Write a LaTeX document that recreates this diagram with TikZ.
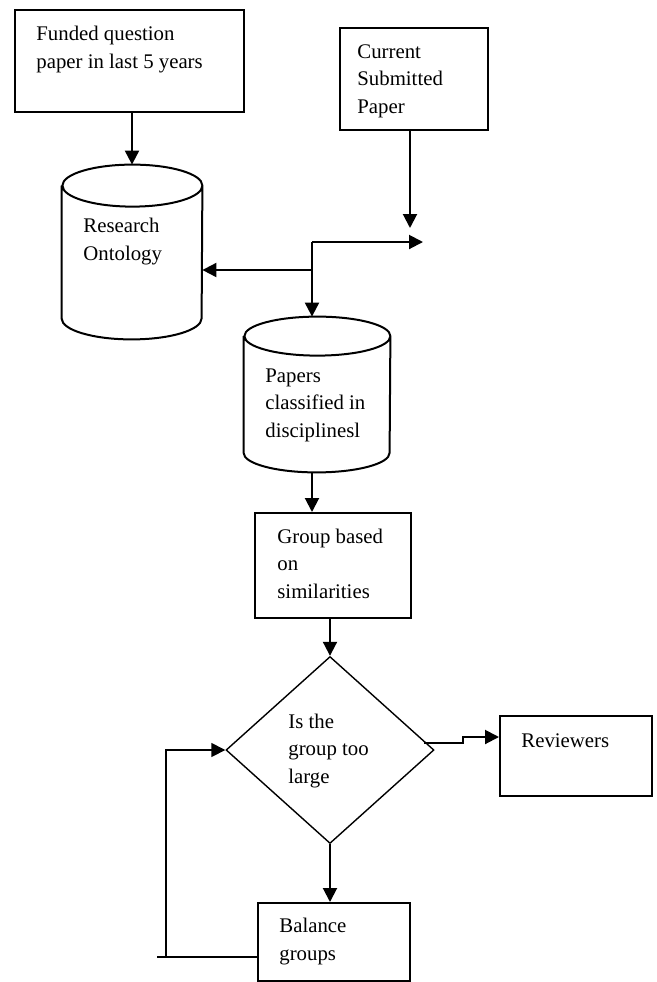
\documentclass[tikz,border=0pt]{standalone}
\usepackage{fontspec}
\setmainfont{Liberation Serif}
\usepackage{tikz}
\usetikzlibrary{shapes.geometric, arrows.meta, positioning, calc}

% database drawn round a named rectangle: node, width, ellipse radius
\newcommand{\dbdraw}[3]{%
  \draw[dbline] ($(#1.north west)+(0,#3)$) -- ($(#1.south west)+(0,-#3)$)
    arc[start angle=180, end angle=0, x radius=#2/2, y radius=#3]
    -- ($(#1.north east)+(0,#3)$)
    arc[start angle=0, end angle=-180, x radius=#2/2, y radius=#3]
    arc[start angle=180, end angle=0, x radius=#2/2, y radius=#3];}

\begin{document}
\begin{tikzpicture}[
    x=0.5pt, y=-0.5pt,
    box/.style={rectangle, draw, line width=1pt, inner sep=0pt},
    db/.style={rectangle, inner sep=0pt},
    dbline/.style={line width=1pt},
    decision/.style={diamond, draw, line width=0.7pt, inner sep=0pt},
    txt/.style={anchor=base west, align=left, inner sep=0pt, font=\fontsize{10.4pt}{13.75pt}\selectfont},
    arr/.style={-{Triangle[length=7pt, width=7pt]}, line width=1pt},
    loopline/.style={line width=0.8pt}
]
\useasboundingbox (0,0) rectangle (657,982);

% Shapes
\node[box, minimum width=114.5pt, minimum height=51pt] (funded) at (129.5,61) {};
\node[box, minimum width=74pt, minimum height=51pt] (current) at (414,79) {};
\node[db, minimum width=70pt, minimum height=87pt] (research) at (132,252) {};
\node[db, minimum width=73pt, minimum height=77.5pt] (papers) at (317,394.5) {};
\node[box, minimum width=78pt, minimum height=52.5pt] (group) at (333,565.5) {};
\node[decision, minimum width=104pt, minimum height=93.5pt] (large) at (330,750) {};
\node[box, minimum width=76pt, minimum height=40pt] (reviewers) at (576,756) {};
\node[box, minimum width=76pt, minimum height=39pt] (balance) at (334,942) {};

\dbdraw{research}{140}{21}
\dbdraw{papers}{146}{19.5}

% Texts (placed at the baseline of their last line)
\node[txt] (fundedtext) at (36,68) {Funded question\\paper in last 5 years};
\node[txt] (currenttext) at (357,113) {Current\\Submitted\\Paper};
\node[txt] (researchtext) at (83,260) {Research\\Ontology};
\node[txt] (paperstext) at (265,437) {Papers\\classified in\\disciplinesl};
\node[txt] (grouptext) at (277,598) {Group based\\on\\similarities};
\node[txt] (largetext) at (288,783) {Is the\\group too\\large};
\node[txt] (reviewerstext) at (521,747) {Reviewers};
\node[txt] (balancetext) at (279,960) {Balance\\groups};

% Junction points
\coordinate (cjoin) at (410,228);
\coordinate (split) at (312,242);
\coordinate (rtip) at (423,242);
\coordinate (lsplit) at (312,270);
\coordinate (stub) at (157,957);
\coordinate (bend) at (166,957);

% Arrows
\draw[arr] (research.north |- funded.south) -- (research.north);
\draw[arr] (cjoin |- current.south) -- (cjoin);
\draw[arr] (split) -- (rtip);
\draw[arr] (split) -- (split |- papers.north);
\draw[arr] (lsplit) -- (research.east |- lsplit);
\draw[arr] (split |- papers.south) -- (split |- group.north);
\draw[arr] (large.north |- group.south) -- (large.north);
\draw[arr] ($(large.east)+(-11,-7)$) -- ++(39,0) |- ($(reviewers.north west)+(0,22)$);
\draw[arr] (large.south) -- (large.south |- balance.north);

% Loop back
\draw[loopline] ($(balance.west)+(0,15)$) -- (stub);
\draw[loopline, -{Triangle[length=7pt, width=7pt]}] (bend) |- (large.west);

\end{tikzpicture}
\end{document}
